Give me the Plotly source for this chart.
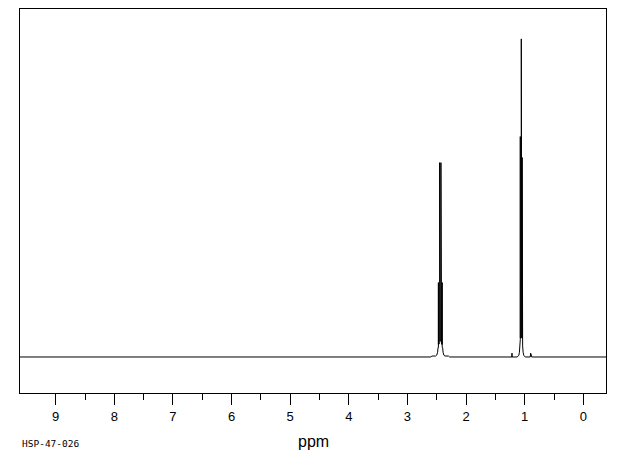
import plotly.graph_objects as go

# ---- data (ppm, relative intensity; tallest line = 100) ----
baseline_left_ppm = [9.609]
baseline_left_int = [0.0]

quartet_ppm = [2.60, 2.585, 2.52, 2.50, 2.485, 2.478,
               2.472, 2.472, 2.472, 2.462,
               2.451, 2.451, 2.451, 2.440,
               2.429, 2.429, 2.429, 2.418,
               2.407, 2.407, 2.407, 2.400,
               2.392, 2.380, 2.360, 2.300, 2.280]
quartet_int = [0.0, 0.3, 0.3, 0.6, 1.5, 3.0,
               3.0, 23.4, 4.0, 4.0,
               4.5, 61.1, 5.0, 5.0,
               5.0, 61.1, 4.5, 4.0,
               4.0, 23.4, 3.0, 3.0,
               1.5, 0.6, 0.3, 0.3, 0.0]

triplet_ppm = [1.24, 1.217, 1.217, 1.217, 1.13, 1.10, 1.09, 1.082,
               1.075, 1.075, 1.075, 1.066,
               1.058, 1.058, 1.058, 1.050,
               1.043, 1.043, 1.043, 1.035,
               1.027, 1.015, 0.99, 0.905, 0.898, 0.898, 0.890, 0.88]
triplet_int = [0.0, 0.0, 1.2, 0.0, 0.0, 0.5, 1.5, 3.5,
               5.5, 69.3, 6.0, 6.0,
               6.0, 100.0, 6.0, 6.0,
               6.0, 62.7, 5.5, 3.5,
               1.5, 0.5, 0.0, 0.0, 1.2, 0.6, 0.8, 0.0]

baseline_right_ppm = [-0.387]
baseline_right_int = [0.0]

tick_values = [9, 8, 7, 6, 5, 4, 3, 2, 1, 0]
tick_labels = ["9", "8", "7", "6", "5", "4", "3", "2", "1", "0"]
minor_tick_values = [8.5, 7.5, 6.5, 5.5, 4.5, 3.5, 2.5, 1.5, 0.5]

x_range = [9.609, -0.387]
y_range = [-11.32, 109.4]

spectrum_ppm = baseline_left_ppm + quartet_ppm + triplet_ppm + baseline_right_ppm
spectrum_int = baseline_left_int + quartet_int + triplet_int + baseline_right_int

fig = go.Figure()
fig.add_trace(go.Scatter(
    x=spectrum_ppm, y=spectrum_int, mode="lines",
    line=dict(color="black", width=1), hoverinfo="skip", showlegend=False,
))

# the page body adds an 8px margin; the figure is offset to compensate
fig.update_layout(
    width=604, height=447,
    margin=dict(l=12, r=6, t=1, b=62),
    paper_bgcolor="white", plot_bgcolor="white",
    font=dict(family="Liberation Sans, DejaVu Sans, sans-serif", color="black"),
    xaxis=dict(
        range=x_range, showgrid=False, zeroline=False,
        showline=True, mirror=True, linecolor="black", linewidth=1,
        ticks="outside", ticklen=11, tickwidth=1, tickcolor="black",
        tickmode="array", tickvals=tick_values, ticktext=tick_labels,
        tickfont=dict(size=13, color="black"),
        minor=dict(tickmode="array", tickvals=minor_tick_values,
                   ticks="outside", ticklen=6, tickwidth=1, tickcolor="black",
                   showgrid=False),
    ),
    yaxis=dict(
        range=y_range, showgrid=False, zeroline=False,
        showline=True, mirror=True, linecolor="black", linewidth=1,
        showticklabels=False, ticks="",
    ),
    annotations=[
        dict(text="ppm", xref="paper", yref="paper", x=0.5, y=-0.1276,
             xanchor="center", yanchor="middle", showarrow=False,
             font=dict(size=16, color="black")),
        dict(text="HSP-47-026", xref="paper", yref="paper", x=0.0, y=-0.1328,
             xanchor="left", yanchor="middle", showarrow=False,
             font=dict(size=9.5, family="DejaVu Sans Mono, monospace", color="black")),
    ],
)

fig.write_html("out.html")
